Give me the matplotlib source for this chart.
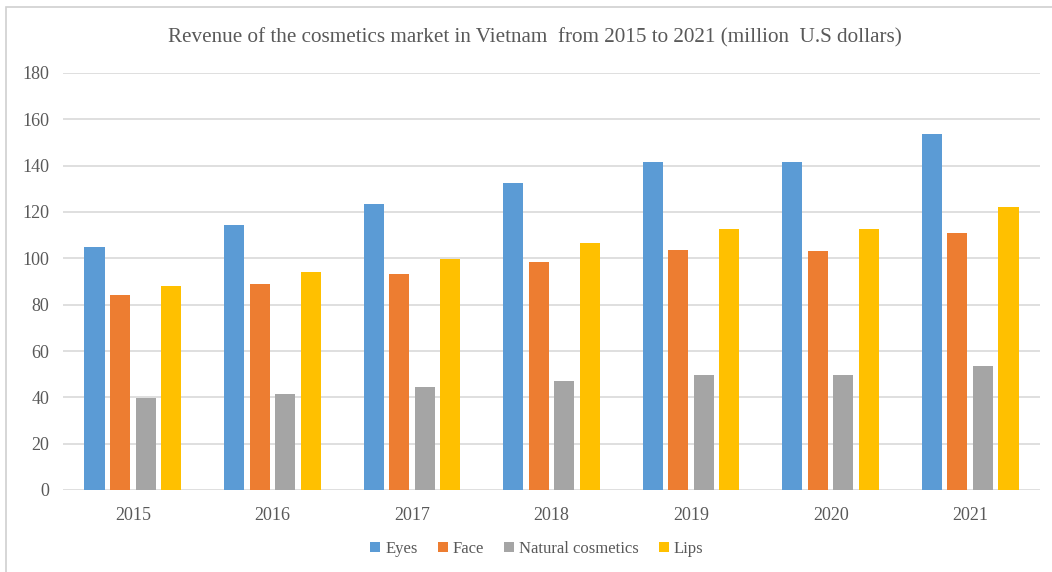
import matplotlib
matplotlib.use("Agg")
import matplotlib.pyplot as plt
import numpy as np
from matplotlib.patches import Rectangle

years = ["2015", "2016", "2017", "2018", "2019", "2020", "2021"]
series_names = ["Eyes", "Face", "Natural cosmetics", "Lips"]
eyes = [105.0, 114.2, 123.3, 132.5, 141.7, 141.7, 153.5]
face = [84.0, 88.8, 93.2, 98.5, 103.7, 103.1, 110.9]
natural = [39.8, 41.6, 44.3, 46.9, 49.5, 49.5, 53.4]
lips = [88.0, 94.1, 99.8, 106.5, 112.8, 112.8, 122.1]
yticks = [0, 20, 40, 60, 80, 100, 120, 140, 160, 180]
title = "Revenue of the cosmetics market in Vietnam  from 2015 to 2021 (million  U.S dollars)"

colors = ["#5B9BD5", "#ED7D31", "#A5A5A5", "#FFC000"]
txt = "#595959"

plt.rcParams['font.family'] = ['Liberation Serif', 'DejaVu Serif']

fig = plt.figure(figsize=(10.52, 5.72), dpi=100)
W, H = 1052, 572
ax = fig.add_axes([63 / W, 1 - 490 / H, (1040 - 63) / W, (490 - 73) / H])

x = np.arange(len(years))
bw = 0.144
step = 0.183
data = [eyes, face, natural, lips]
for i, (vals, name, c) in enumerate(zip(data, series_names, colors)):
    ax.bar(x + (i - 1.5) * step, vals, width=bw, color=c, label=name, zorder=3)

ax.set_xlim(-0.5, len(years) - 0.5)
ax.set_ylim(0, 180)
ax.set_yticks(yticks)
ax.set_xticks(x)
ax.set_xticklabels(years)
ax.grid(axis='y', color='#d9d9d9', linewidth=1.2, zorder=0)
for s in ax.spines.values():
    s.set_visible(False)
ax.tick_params(axis='both', length=0, colors=txt, labelsize=13)
ax.tick_params(axis='y', pad=10)
ax.tick_params(axis='x', pad=12)

fig.text(535 / W, 1 - 38 / H, title, ha='center', va='center', fontsize=15.2, color=txt)

leg = fig.legend(loc='center', bbox_to_anchor=(537 / W, 1 - 549 / H), ncol=4, frameon=False,
                 fontsize=12, handlelength=0.6, handleheight=0.6, handletextpad=0.3,
                 columnspacing=1.2, labelcolor=txt)

fig.patches.append(Rectangle((6 / W, -0.1), 1.2, 1 - 7 / H + 0.1, transform=fig.transFigure,
                             fill=False, edgecolor='#d0d0d0', linewidth=1.2))

fig.savefig("out.png", dpi=100, facecolor='white')
